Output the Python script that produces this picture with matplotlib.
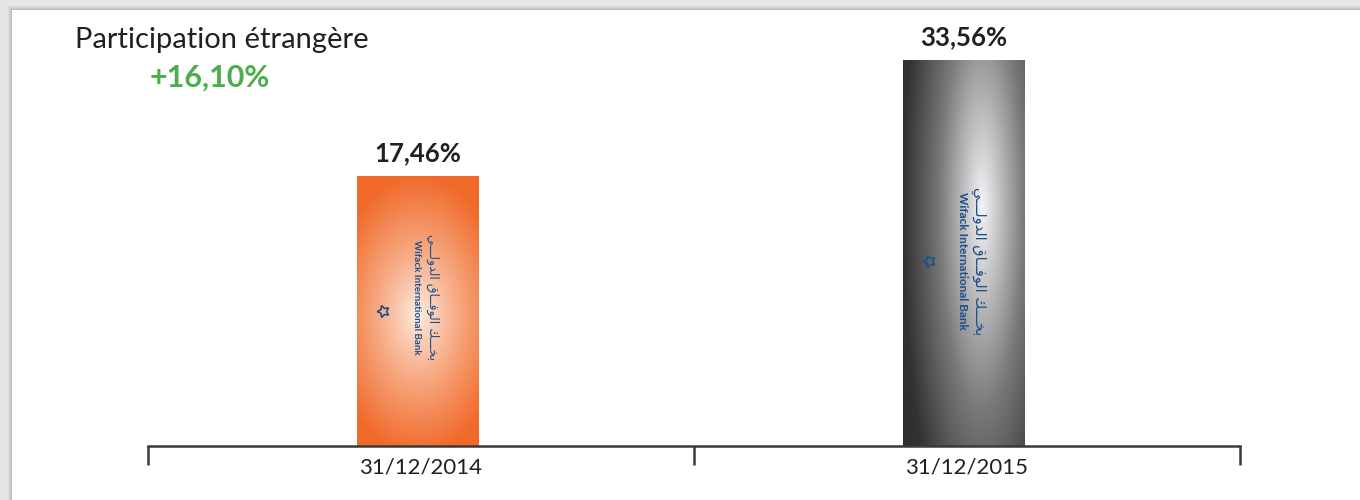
import numpy as np
import matplotlib.pyplot as plt
from matplotlib.colors import to_rgb
from matplotlib.patches import Rectangle

# data
dates = ['31/12/2014', '31/12/2015']
shares = [17.46, 33.56]
share_labels = ['17,46%', '33,56%']
title = 'Participation étrangère'
change_label = '+16,10%'
bank_name = 'Wifack International Bank'
# "بنك الوفاق الدولي" in presentation forms (matplotlib does no arabic shaping)
bank_name_ar = ('\uFE91\uFEA8\u0640\u0640\u0640\uFEDA \uFE8D\uFEDF\uFEEE\uFED3\u0640\u0640\uFE8E\uFED5 '
                '\uFE8D\uFEDF\uFEAA\uFEED\uFEDF\u0640\u0640\u0640\uFEF2')[::-1]

base = -20          # the bars of the report start below zero
ink = '#231f20'
blue = '#1d4f8a'

plt.rcParams['font.family'] = ['Lato', 'DejaVu Sans']

fig = plt.figure(figsize=(13.6, 5), dpi=100)
fig.patch.set_facecolor('#e6e6e6')

# white page with a soft shadow on top and left (behind the axes)
for k, a in zip(range(5, 0, -1), [0.05, 0.08, 0.12, 0.18, 0.25]):
    fig.patches.append(Rectangle(((12 - k) / 1360, 0), 1, (490 + k) / 500,
                                 transform=fig.transFigure, color='#9a9a9a', alpha=a, lw=0, zorder=-2))
fig.patches.append(Rectangle((12 / 1360, 0), 1, 490 / 500, transform=fig.transFigure,
                             color='white', lw=0, zorder=-1))

ax = fig.add_axes([148 / 1360, 54 / 500, 1092 / 1360, 436 / 500])
ax.set_facecolor('none')

x = np.arange(len(dates))
width = 0.222
heights = np.array(shares) - base
bars = ax.bar(x - 0.006, heights, width, bottom=base, color='none', lw=0, zorder=2)


def radial(nx, ny, cx, cy, sy):
    u = np.linspace(-1, 1, nx)
    t = np.linspace(0, 1, ny)
    U, T = np.meshgrid(u, t)
    return np.sqrt((U - cx) ** 2 + ((T - cy) / sy) ** 2)


# orange bar: white glow in the middle
r = radial(120, 270, 0.0, 0.485, 0.36)
s = np.clip(r / 1.45, 0, 1)[..., None] ** 0.8
orange = (1 - s) * np.array(to_rgb('#fff3ea')) + s * np.array(to_rgb('#f06a2a'))

# grey bar: light spot upper right, dark on the left
r = radial(120, 386, 0.3, 0.62, 0.75)
v = np.interp(r, [0, 0.7, 1.3, 2.2], [0.97, 0.48, 0.2, 0.13])
grey = np.dstack([v * 0.99, v * 0.99, v * 1.0])

for bar, img in zip(bars, [orange, grey]):
    x0, y0 = bar.get_x(), bar.get_y()
    im = ax.imshow(img, extent=[x0, x0 + bar.get_width(), y0, y0 + bar.get_height()],
                   origin='lower', aspect='auto', interpolation='bilinear', zorder=2)
    im.set_clip_path(bar)

# bank logo printed on the bars
text_frac = [0.55, 0.48]
star_frac = [0.50, 0.48]
logo_size = [7, 8.5]
for i, bar in enumerate(bars):
    cx = bar.get_x() + bar.get_width() / 2
    h = bar.get_height()
    ax.text(cx - 0.01 * width, base + text_frac[i] * h, bank_name, rotation=-90,
            ha='center', va='center', fontsize=logo_size[i], fontweight='bold', color=blue, zorder=3)
    ax.text(cx + 0.12 * width, base + text_frac[i] * h, bank_name_ar, rotation=-90,
            ha='center', va='center', fontsize=logo_size[i] + 2, color=blue, zorder=3,
            family=['DejaVu Sans'])
    ax.plot(cx - 0.29 * width, base + star_frac[i] * h, marker=(5, 1, 90), markersize=9,
            markerfacecolor='none', markeredgecolor=blue, markeredgewidth=1.2, zorder=3)

for bar, val, lab in zip(bars, shares, share_labels):
    ax.annotate(lab, (bar.get_x() + bar.get_width() / 2, val), xytext=(0, 11),
                textcoords='offset points', ha='center', va='baseline',
                fontsize=18.5, fontweight='bold', color=ink)

ax.set_xlim(-0.5, len(dates) - 0.5)
ax.set_ylim(base, 40.5)

ax.set_xticks(np.arange(-0.5, len(dates), 1.0))
ax.set_xticklabels([])
ax.set_xticks(x, minor=True)
ax.set_xticklabels(dates, minor=True, fontsize=16, color=ink)
ax.tick_params(which='major', length=14, width=1.8, color='#3a3a3a', direction='out')
ax.tick_params(which='minor', length=0, pad=8)
ax.set_yticks([])
for side in ['left', 'top', 'right']:
    ax.spines[side].set_visible(False)
ax.spines['bottom'].set_color('#3a3a3a')
ax.spines['bottom'].set_linewidth(1.8)
ax.spines['bottom'].set_zorder(4)

fig.text(75 / 1360, 1 - 48 / 500, title, fontsize=21, color=ink, va='baseline')
fig.text(150 / 1360, 1 - 87 / 500, change_label, fontsize=22, fontweight='bold',
         color='#4cae4a', va='baseline')

fig.savefig('out.png', dpi=100, facecolor=fig.get_facecolor())
